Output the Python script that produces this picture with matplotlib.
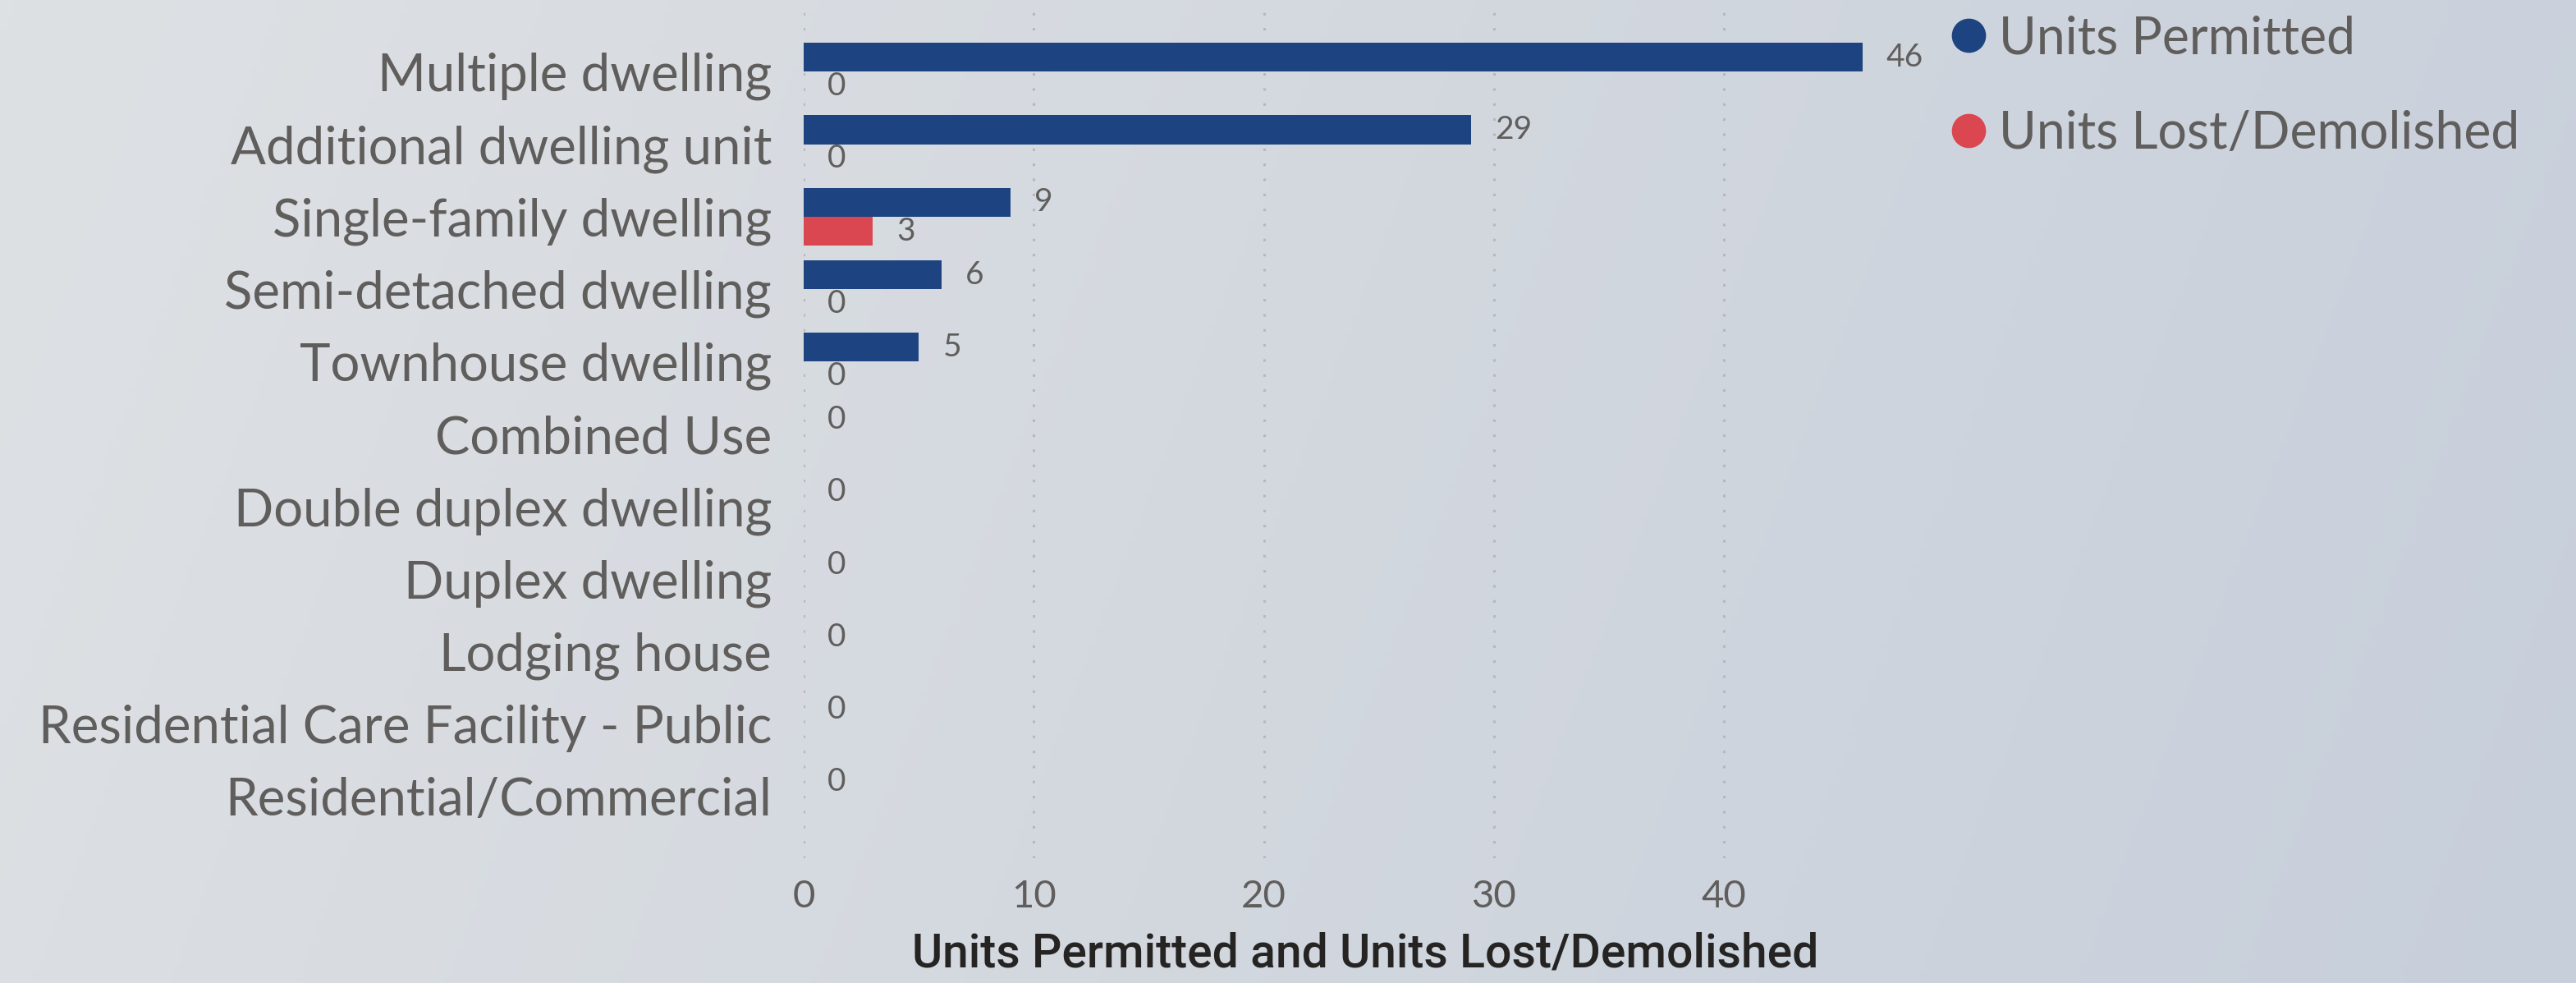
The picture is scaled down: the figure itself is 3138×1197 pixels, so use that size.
import numpy as np
import matplotlib.pyplot as plt
from matplotlib.lines import Line2D
from matplotlib.colors import LinearSegmentedColormap

# -----------------------------
# Data
# -----------------------------
categories = [
    "Multiple dwelling",
    "Additional dwelling unit",
    "Single-family dwelling",
    "Semi-detached dwelling",
    "Townhouse dwelling",
    "Combined Use",
    "Double duplex dwelling",
    "Duplex dwelling",
    "Lodging house",
    "Residential Care Facility - Public",
    "Residential/Commercial",
]
units_permitted = [46, 29, 9, 6, 5, 0, 0, 0, 0, 0, 0]
units_lost = [0, 0, 3, 0, 0, 0, 0, 0, 0, 0, 0]
x_ticks = [0, 10, 20, 30, 40]

blue = "#1D4480"
red = "#DA4750"
grey_text = "#605E5C"

plt.rcParams['font.family'] = ['Lato', 'DejaVu Sans']

W, H = 3138, 1197
fig = plt.figure(figsize=(W / 100, H / 100), dpi=100)

# -----------------------------
# Background gradient
# -----------------------------
bg = fig.add_axes([0, 0, 1, 1])
gx, gy = np.meshgrid(np.linspace(0, 1, 400), np.linspace(0, 1, 160))
t = (gx * W + 0.38 * gy * H) / (W + 0.38 * H)
cmap = LinearSegmentedColormap.from_list("bg", ["#dee1e4", "#d3d8df", "#c7cfdb"])
bg.imshow(t, cmap=cmap, aspect='auto', extent=[0, 1, 0, 1], origin='upper')
bg.axis('off')

# -----------------------------
# Bars
# -----------------------------
ax = fig.add_axes([979 / W, 1 - 1045 / H, (2347 - 979) / W, (1045 - 15) / H])
ax.set_facecolor('none')

y = np.arange(len(categories))
h = 0.4
ax.barh(y - h / 2, units_permitted, height=h, color=blue, zorder=3)
ax.barh(y + h / 2, units_lost, height=h, color=red, zorder=3)

for i in range(len(categories)):
    ax.annotate(str(units_permitted[i]), (units_permitted[i], y[i] - h / 2),
                xytext=(21, 0), textcoords='offset points',
                va='center', ha='left', fontsize=28, color=grey_text)
    # both zero -> only one label is shown
    if units_permitted[i] != 0 or units_lost[i] != 0:
        ax.annotate(str(units_lost[i]), (units_lost[i], y[i] + h / 2),
                    xytext=(21, 0), textcoords='offset points',
                    va='center', ha='left', fontsize=28, color=grey_text)

ax.set_xlim(0, 48.8)
ax.set_ylim(10.85, -0.82)
ax.set_xticks(x_ticks)
ax.set_yticks(y)
ax.set_yticklabels(categories, fontsize=45.7, color=grey_text)
ax.tick_params(axis='y', length=0, pad=28)
ax.tick_params(axis='x', length=0, pad=19, labelsize=34, labelcolor=grey_text)
ax.xaxis.grid(True, linestyle=(0, (1, 5)), color="#b4b8be", linewidth=2.2, zorder=0)
for s in ax.spines.values():
    s.set_visible(False)

ax.set_xlabel("Units Permitted and Units Lost/Demolished", fontsize=41,
              color="#252423", fontweight='medium', va='center',
              fontfamily=['Roboto', 'DejaVu Sans'])
ax.xaxis.set_label_coords(0.5, -0.114)

# -----------------------------
# Legend
# -----------------------------
handles = [
    Line2D([], [], marker='o', linestyle='none', markersize=29, color=blue),
    Line2D([], [], marker='o', linestyle='none', markersize=29, color=red),
]
fig.legend(handles, ["Units Permitted", "Units Lost/Demolished"],
           loc='upper left', bbox_to_anchor=(2378 / W, 1 - 18 / H),
           frameon=False, fontsize=45, labelcolor=grey_text,
           handlelength=0.65, handletextpad=0.26, borderpad=0,
           borderaxespad=0, labelspacing=0.92)

fig.savefig("out.png", dpi=100)
